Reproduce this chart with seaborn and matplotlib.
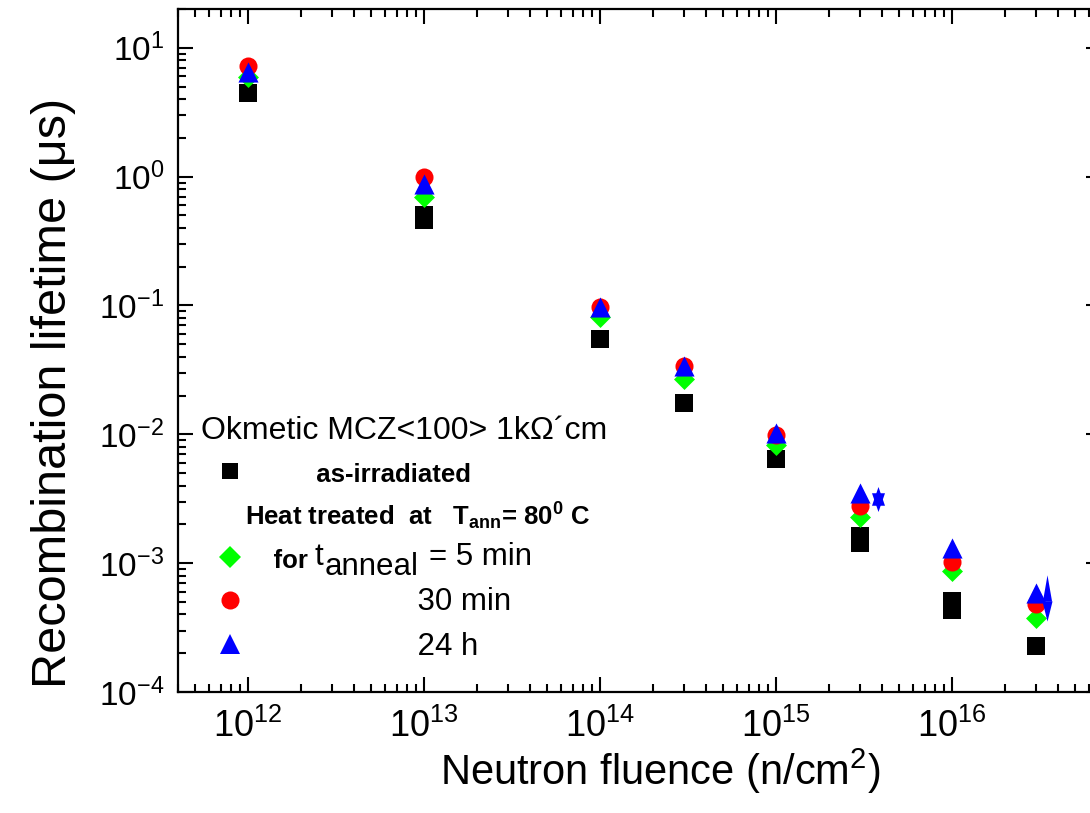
import matplotlib
matplotlib.use("Agg")
import matplotlib.pyplot as plt
import seaborn as sns
import pandas as pd
from matplotlib import font_manager
from matplotlib.lines import Line2D

# values (fluence in n/cm2, lifetime in us)
fluence_irr = [1e12, 1e13, 1e13, 1e14, 3e14, 1e15, 3e15, 3e15, 1e16, 1e16, 3e16]
tau_irr = [4.46, 0.50, 0.46, 0.0547, 0.0174, 0.0064, 1.63e-3, 1.44e-3, 5.1e-4, 4.3e-4, 2.27e-4]

fluence_ann = [1e12, 1e13, 1e14, 3e14, 1e15, 3e15, 1e16, 3e16]
tau_5min = [5.96, 0.70, 0.081, 0.027, 0.0082, 2.27e-3, 8.7e-4, 3.75e-4]
tau_30min = [7.25, 1.0, 0.098, 0.0337, 0.0098, 2.8e-3, 1.02e-3, 4.8e-4]
tau_24h = [6.5, 0.88, 0.098, 0.034, 0.0102, 3.5e-3, 1.3e-3, 5.85e-4]

# odd blue symbols next to the 3e15 and 3e16 groups
extra_fluence = [3.8e15, 3.8e15, 3.47e16, 3.47e16]
extra_tau = [3.13e-3, 3.13e-3, 6.4e-4, 4.25e-4]
extra_kind = ["star_up", "star_down", "arrow_up", "arrow_down"]

GREEN, RED, BLUE = "#00ff00", "#ff0000", "#0000ff"

sns.set_style("ticks")
names = {f.name for f in font_manager.fontManager.ttflist}
narrow = "Liberation Sans Narrow" if "Liberation Sans Narrow" in names else "Liberation Sans"
plt.rcParams["font.family"] = ["Liberation Sans", "DejaVu Sans"]
plt.rcParams["mathtext.fontset"] = "custom"
plt.rcParams["mathtext.rm"] = "Liberation Sans"
plt.rcParams["mathtext.bf"] = "Liberation Sans:bold"
for k in ["text.color", "axes.labelcolor", "xtick.color", "ytick.color", "axes.edgecolor"]:
    plt.rcParams[k] = "black"

fig = plt.figure(figsize=(10.9, 8.13), dpi=100)
ax = fig.add_axes([178 / 1090, 121 / 813, 923 / 1090, 683 / 813])
ax.set_xscale("log")
ax.set_yscale("log")

df_irr = pd.DataFrame({"fluence": fluence_irr, "tau": tau_irr})
df_ann = pd.DataFrame({"fluence": fluence_ann, "t5": tau_5min, "t30": tau_30min, "t24": tau_24h})

sns.scatterplot(data=df_irr, x="fluence", y="tau", marker="s", s=150, color="black", linewidth=0, ax=ax)
sns.scatterplot(data=df_ann, x="fluence", y="t5", marker="D", s=114, color=GREEN, linewidth=0, ax=ax)
sns.scatterplot(data=df_ann, x="fluence", y="t30", marker="o", s=169, color=RED, linewidth=0, ax=ax)
sns.scatterplot(data=df_ann, x="fluence", y="t24", marker="^", s=210, color=BLUE, linewidth=0, ax=ax)

shapes = {
    "star_up": ([(0, 1), (-0.52, -0.5), (0.52, -0.5)], 18.0),
    "star_down": ([(0, -1), (-0.52, 0.5), (0.52, 0.5)], 18.0),
    "arrow_up": ([(0, 1), (-0.35, -1), (0.35, -1)], 19.0),
    "arrow_down": ([(0, -1), (-0.5, 1), (0.5, 1)], 14.5),
}
for fx, ty, kind in zip(extra_fluence, extra_tau, extra_kind):
    verts, ms = shapes[kind]
    sns.scatterplot(x=[fx], y=[ty], marker=verts, s=ms ** 2, color=BLUE, linewidth=0, ax=ax)

ax.set_xlim(4e11, 7e16)
ax.set_ylim(1e-4, 20)

for sp in ax.spines.values():
    sp.set_linewidth(1.6)
    sp.set_color("black")
ax.tick_params(which="both", direction="in", top=True, right=True, width=1.5, colors="black")
ax.tick_params(which="major", length=11)
ax.tick_params(which="minor", length=6)
ax.tick_params(axis="y", which="minor", right=False)
ax.tick_params(axis="y", labelsize=24, pad=10)
ax.tick_params(axis="x", labelsize=26, pad=12, labelfontfamily=narrow)

ax.set_ylabel("Recombination lifetime (\u03bcs)", fontsize=35)
ax.yaxis.set_label_coords(-0.11, 0.438)
ax.set_xlabel(r"Neutron fluence (n/cm$\mathdefault{^{2}}$)", fontsize=30, family=[narrow, "DejaVu Sans"])
ax.xaxis.set_label_coords(0.522, -0.08)
ax.xaxis.label.set_verticalalignment("top")

handles = [
    Line2D([], [], ls="none", marker="s", color="black", ms=12.2, mew=0),
    Line2D([], [], ls="none"),
    Line2D([], [], ls="none", marker="D", color=GREEN, ms=10.7, mew=0),
    Line2D([], [], ls="none", marker="o", color=RED, ms=13, mew=0),
    Line2D([], [], ls="none", marker="^", color=BLUE, ms=14.5, mew=0),
]
labels = [
    " " * 10 + "as-irradiated",
    r"Heat treated  at   T$\mathdefault{_{ann}}$= 80$\mathdefault{^{0}}$ C",
    " " * 4 + "for",
    " " * 20 + "30 min",
    " " * 20 + "24 h",
]
leg = ax.legend(handles, labels, title="Okmetic MCZ<100> 1k\u03a9\u00b4cm", loc="upper left",
                bbox_to_anchor=(0.025, 0.404), frameon=False, fontsize=22.5, title_fontsize=23,
                handlelength=1.86, handletextpad=-0.45, labelspacing=0.45, borderpad=0,
                borderaxespad=0, alignment="left")
texts = leg.get_texts()
for t in texts:
    t.set_color("black")
for t in texts[:3]:
    t.set_fontweight("bold")
    t.set_fontsize(18.5)
leg.get_title().set_color("black")

# "t anneal = 5 min" after the bold "for"
a1 = ax.annotate("t", xy=(1, 0), xycoords=texts[2], xytext=(5, 1), textcoords="offset points",
                 fontsize=22.5, va="bottom", ha="left", zorder=6)
a2 = ax.annotate("anneal", xy=(1, 0), xycoords=a1, xytext=(1, -7), textcoords="offset points",
                 fontsize=22.5, va="bottom", ha="left", zorder=7)
ax.annotate("= 5 min", xy=(1, 0), xycoords=a2, xytext=(7, 7), textcoords="offset points",
            fontsize=22.5, va="bottom", ha="left", zorder=8)

fig.savefig("out.png", dpi=100)
